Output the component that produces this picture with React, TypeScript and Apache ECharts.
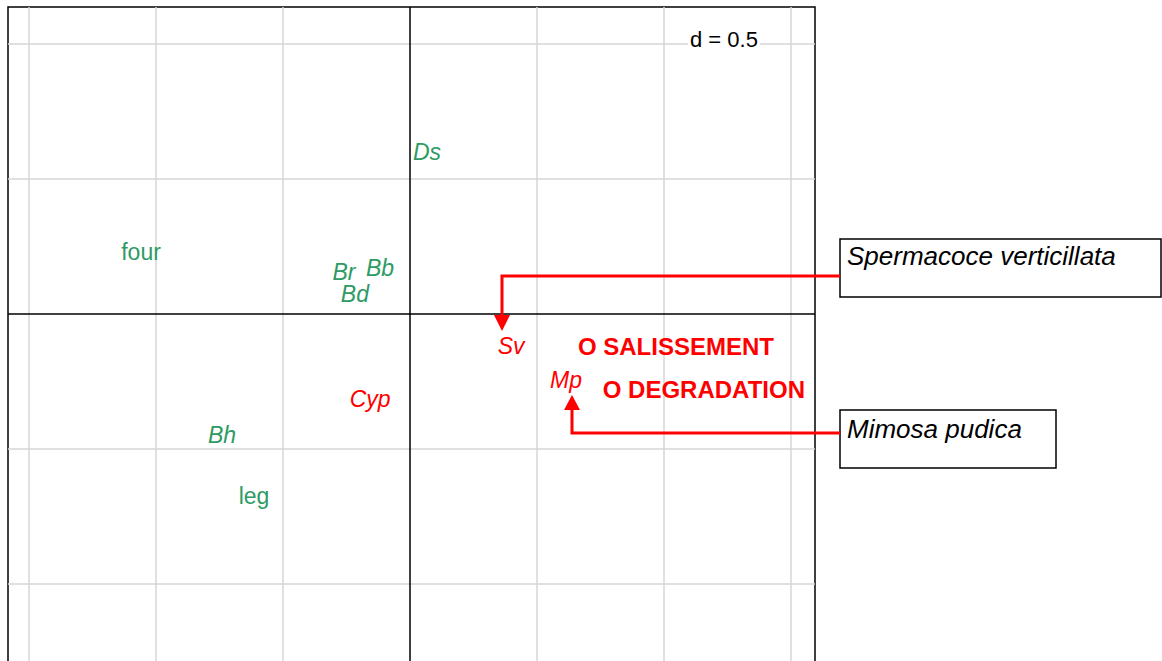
import React, { useEffect, useRef } from "react";
import * as echarts from "echarts";

// grid references (d = 0.5)
const xGrid = [-1.5, -1, -0.5, 0.5, 1, 1.5];
const yGrid = [-1, -0.5, 0.5, 1];

// green labels (variables)
const greenNames = ["Ds", "four", "Br", "Bb", "Bd", "Bh", "leg"];
const greenX = [0.067, -1.059, -0.26, -0.118, -0.217, -0.74, -0.614];
const greenY = [0.6, 0.23, 0.156, 0.17, 0.074, -0.448, -0.674];
const greenItalic = [true, false, true, true, true, true, false];

// red labels (species)
const redNames = ["Cyp", "Sv", "Mp"];
const redX = [-0.157, 0.398, 0.614];
const redY = [-0.315, -0.119, -0.244];

// red bold labels (factors)
const factorNames = ["O SALISSEMENT", "O DEGRADATION"];
const factorX = [1.047, 1.157];
const factorY = [-0.119, -0.281];

const GREEN = "#2E9B64";
const RED = "#FF0000";
const FONT = "Liberation Sans, Arial, sans-serif";

export default function App() {
  const ref = useRef<HTMLDivElement>(null);
  useEffect(() => {
    if (!ref.current) return;
    const chart = echarts.init(ref.current, undefined, { renderer: "svg" });

    const labelSeries = (
      names: string[],
      xs: number[],
      ys: number[],
      color: string,
      italic: boolean[] | boolean,
      bold: boolean,
      size: number
    ) => ({
      type: "scatter",
      symbolSize: 0,
      silent: true,
      z: 5,
      itemStyle: { opacity: 1 },
      data: names.map((n, i) => ({
        name: n,
        value: [xs[i], ys[i]],
        label: {
          fontStyle: (Array.isArray(italic) ? italic[i] : italic) ? "italic" : "normal",
        },
      })),
      label: {
        show: true,
        position: "inside",
        formatter: "{b}",
        color,
        opacity: 1,
        textBorderWidth: 0,
        textShadowBlur: 0,
        fontSize: size,
        fontFamily: FONT,
        fontWeight: bold ? "bold" : "normal",
      },
    });

    chart.setOption({
      animation: false,
      grid: {
        left: 8,
        top: 7,
        width: 807,
        height: 700,
        show: true,
        borderColor: "#000",
        borderWidth: 1.5,
        backgroundColor: "#fff",
      },
      xAxis: {
        type: "value",
        min: -402 / 254,
        max: 405 / 254,
        show: false,
        splitLine: { show: false },
      },
      yAxis: {
        type: "value",
        min: -393 / 270,
        max: 307 / 270,
        show: false,
        splitLine: { show: false },
      },
      series: [
        {
          type: "scatter",
          data: [],
          silent: true,
          markLine: {
            silent: true,
            symbol: "none",
            label: { show: false },
            lineStyle: { color: "#d6d6d6", width: 1.5, type: "solid" },
            emphasis: { disabled: true },
            data: [
              ...xGrid.map((v) => ({ xAxis: v })),
              ...yGrid.map((v) => ({ yAxis: v })),
            ],
          },
        },
        {
          type: "scatter",
          data: [],
          silent: true,
          z: 3,
          markLine: {
            silent: true,
            symbol: "none",
            label: { show: false },
            lineStyle: { color: "#000", width: 1.5, type: "solid" },
            emphasis: { disabled: true },
            data: [{ xAxis: 0 }, { yAxis: 0 }],
          },
        },
        labelSeries(greenNames, greenX, greenY, GREEN, greenItalic, false, 23),
        labelSeries(redNames, redX, redY, RED, true, false, 23),
        labelSeries(factorNames, factorX, factorY, RED, false, true, 24),
      ],
      graphic: [
        {
          type: "text",
          left: 688,
          top: 28,
          z: 10,
          style: {
            text: "d = 0.5",
            fill: "#000",
            font: "22px " + FONT,
            backgroundColor: "#fff",
            padding: [0, 2],
          },
        },
        {
          type: "rect",
          shape: { x: 840, y: 239, width: 321, height: 58 },
          style: { fill: "#fff", stroke: "#000", lineWidth: 1.5 },
          z: 10,
        },
        {
          type: "text",
          x: 847,
          y: 243,
          z: 11,
          style: {
            text: "Spermacoce verticillata",
            fill: "#000",
            font: "italic 26px " + FONT,
          },
        },
        {
          type: "rect",
          shape: { x: 840, y: 410, width: 216, height: 58 },
          style: { fill: "#fff", stroke: "#000", lineWidth: 1.5 },
          z: 10,
        },
        {
          type: "text",
          x: 847,
          y: 416,
          z: 11,
          style: {
            text: "Mimosa pudica",
            fill: "#000",
            font: "italic 26px " + FONT,
          },
        },
        {
          type: "polyline",
          shape: { points: [[840, 276], [502, 276], [502, 317]] },
          style: { stroke: RED, lineWidth: 3, fill: null },
          z: 10,
        },
        {
          type: "polygon",
          shape: { points: [[494, 315], [510, 315], [502, 331]] },
          style: { fill: RED },
          z: 10,
        },
        {
          type: "polyline",
          shape: { points: [[840, 433], [572, 433], [572, 408]] },
          style: { stroke: RED, lineWidth: 3, fill: null },
          z: 10,
        },
        {
          type: "polygon",
          shape: { points: [[564, 410], [580, 410], [572, 395]] },
          style: { fill: RED },
          z: 10,
        },
      ],
    });
    return () => chart.dispose();
  }, []);

  return (
    <div
      style={{
        position: "fixed",
        left: 0,
        top: 0,
        width: 1162,
        height: 661,
        overflow: "hidden",
        background: "#fff",
      }}
    >
      <div ref={ref} style={{ width: 1162, height: 720 }} />
    </div>
  );
}
